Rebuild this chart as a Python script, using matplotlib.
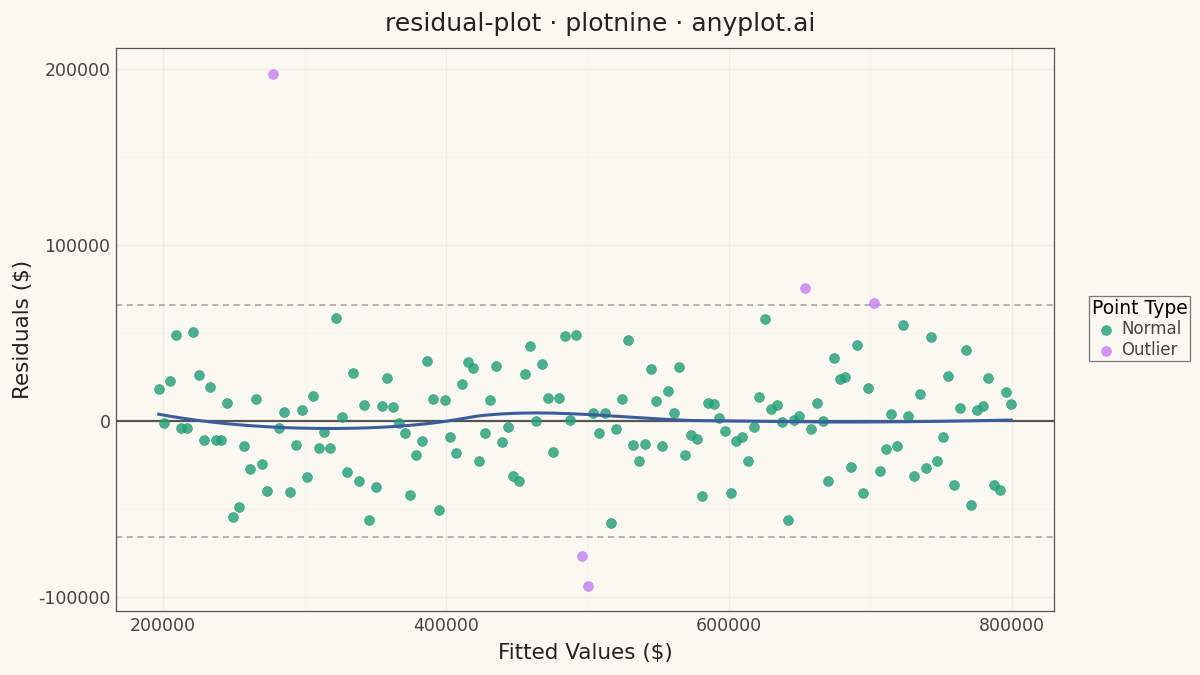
import numpy as np
import matplotlib
matplotlib.use("Agg")
import matplotlib.pyplot as plt
from matplotlib.ticker import MultipleLocator

# ---- data (thousands of $) ----
normal_fitted_k = [197, 200.7, 205, 209, 213, 217, 221, 225.2, 229.2, 233.2, 237.2, 241.2,
                   245.2, 249.5, 253.5, 257.5, 261.5, 265.5, 269.7, 273.7, 281.8, 285.7,
                   290, 293.8, 298, 302, 306, 310, 314, 318.2, 322.3, 326.3, 330.2, 334.3,
                   338.3, 342.3, 345.6, 350.5, 354.6, 358.5, 362.7, 366.8, 370.8, 374.8,
                   378.8, 382.8, 386.8, 391, 395, 399, 403, 407, 411.1, 415.3, 419.3, 423.3,
                   427.3, 431.3, 435.5, 439.6, 443.6, 447.6, 451.6, 455.6, 459.6, 463.6,
                   467.8, 471.9, 475.8, 479.9, 483.9, 487.8, 491.9, 504.1, 508.4, 512.4,
                   516.4, 520.3, 524.4, 528.6, 532.4, 536.6, 540.6, 544.6, 548.6, 552.6,
                   556.9, 560.9, 564.9, 568.9, 572.9, 577.2, 581.1, 585.2, 589.2, 593.1,
                   597.2, 601.2, 605.2, 609.4, 613.4, 617.4, 621.4, 625.6, 629.7, 633.7,
                   637.7, 641.7, 645.7, 649.5, 658, 662, 666.2, 670.2, 674.2, 678.2, 682.2,
                   686.4, 690.2, 694.5, 698.4, 706.7, 710.7, 714.7, 718.7, 722.7, 726.7,
                   730.7, 735, 739, 743, 747, 751, 755, 759.2, 763.2, 767.3, 771.2, 775.2,
                   779.3, 783.2, 787.5, 791.5, 795.5, 799.5]
normal_resid_k = [18.2, -1, 22.5, 48.9, -4, -4, 50.7, 26.1, -11, 19.3, -11, -11,
                  10.2, -54.5, -48.9, -14, -27.5, 12.3, -24.4, -39.6, -4, 4.9,
                  -40.2, -13.5, 6.1, -31.8, 14, -15.3, -6.3, -15.3, 58.3, 2.3, -29.2, 27.5,
                  -34.1, 8.9, -56.4, -37.3, 8.5, 24.6, 7.8, -1, -6.6, -42,
                  -19.3, -11.4, 34.3, 12.7, -50.7, 11.9, -9.3, -18, 20.8, 33.3, 30.3, -22.9,
                  -7, 12.1, 31.4, -12.1, -3.4, -31.1, -33.9, 26.5, 42.8, 0,
                  32.2, 12.9, -17.4, 12.9, 48.1, 0.7, 49, 4.7, -7, 4.7,
                  -58.1, -4.7, 12.5, 46.2, -13.8, -22.5, -13.3, 29.4, 11.6, -14.2,
                  17.2, 4.7, 30.7, -19.5, -8.1, -10.4, -42.4, 10.4, 9.5, 1.9,
                  -5.5, -41.1, -11.2, -8.9, -22.5, -3.6, 13.5, 58.1, 6.6, 9.1,
                  -0.8, -56.3, 0.6, 2.8, -4.5, 10.2, 0, -33.9, 35.6, 23.9, 25,
                  -26.3, 43.2, -41.1, 18.8, -28.6, -16.1, 4, -14.2, 54.5, 3,
                  -31.1, 15.2, -26.9, 47.6, -22.7, -8.9, 25.4, -36.4, 7.6, 40.2, -47.7, 6.1,
                  8.5, 24.3, -36.5, -39.2, 16.3, 9.7]
outlier_fitted_k = [277.7, 496.1, 500.3, 653.7, 702.3]
outlier_resid_k = [197.2, -76.7, -93.8, 75.6, 66.8]
band_k = 66.2  # +/- 2 sd reference band

nx = np.array(normal_fitted_k) * 1000
ny = np.array(normal_resid_k) * 1000
ox = np.array(outlier_fitted_k) * 1000
oy = np.array(outlier_resid_k) * 1000
band = band_k * 1000


def smooth(x, y, xs, span=0.75, degree=2, iters=3):
    """Robust local polynomial (loess) smoother computed from the data."""
    n = len(x)
    q = int(np.ceil(span * n))
    rw = np.ones(n)

    def fit_at(x0):
        d = np.abs(x - x0)
        h = np.sort(d)[q - 1]
        w = np.clip(1 - (d / h) ** 3, 0, None) ** 3 * rw
        X = np.vander(x - x0, degree + 1, increasing=True)
        W = np.sqrt(w)
        beta, *_ = np.linalg.lstsq(X * W[:, None], y * W, rcond=None)
        return beta[0]

    for _ in range(iters):
        fitted = np.array([fit_at(v) for v in x])
        r = y - fitted
        s = np.median(np.abs(r))
        u = np.clip(r / (6 * s), -1, 1)
        rw = (1 - u ** 2) ** 2
    return np.array([fit_at(v) for v in xs])


allx = np.concatenate([nx, ox])
ally = np.concatenate([ny, oy])
order = np.argsort(allx)
allx, ally = allx[order], ally[order]
xs = np.linspace(allx.min(), allx.max(), 200)
ys = smooth(allx, ally, xs)

bg = "#FAF8F1"
plt.rcParams['font.family'] = ['DejaVu Sans']
fig = plt.figure(figsize=(12, 6.75), dpi=100, facecolor=bg)
ax = fig.add_axes([0.0967, 0.0948, 0.7816, 0.8341])
ax.set_facecolor(bg)

ax.set_xlim(166800, 829700)
ax.set_ylim(-108000, 212000)
ax.xaxis.set_major_locator(MultipleLocator(200000))
ax.xaxis.set_minor_locator(MultipleLocator(100000))
ax.yaxis.set_major_locator(MultipleLocator(100000))
ax.yaxis.set_minor_locator(MultipleLocator(50000))
ax.grid(which='major', color='#EEEBE2', linewidth=0.9)
ax.grid(which='minor', color='#F3F1EA', linewidth=0.6)
ax.set_axisbelow(True)

ax.axhline(band, color='#A0A0A0', linestyle=(0, (4, 3)), linewidth=1.1, zorder=1)
ax.axhline(-band, color='#A0A0A0', linestyle=(0, (4, 3)), linewidth=1.1, zorder=1)
ax.axhline(0, color='#555555', linewidth=1.6, zorder=1)

ax.scatter(nx, ny, s=50, color='#1F9E78', alpha=0.8, edgecolors='#1F9E78',
           linewidths=0.5, zorder=3, label='Normal')
ax.scatter(ox, oy, s=50, color='#C77DF3', alpha=0.8, edgecolors='#C77DF3',
           linewidths=0.5, zorder=3, label='Outlier')
ax.plot(xs, ys, color='#3A5DA0', linewidth=2.2, zorder=4)

for s in ax.spines.values():
    s.set_color('#555555')
    s.set_linewidth(0.9)
ax.tick_params(which='both', length=0, labelsize=12.5, labelcolor='#444444', pad=4)
ax.set_xticks([200000, 400000, 600000, 800000])
ax.set_xticklabels(['200000', '400000', '600000', '800000'])
ax.set_yticks([-100000, 0, 100000, 200000])
ax.set_yticklabels(['-100000', '0', '100000', '200000'])

ax.set_xlabel('Fitted Values ($)', fontsize=15.5, color='#222222', labelpad=6)
ax.set_ylabel('Residuals ($)', fontsize=15.5, color='#222222', labelpad=4)
fig.suptitle('residual-plot · plotnine · anyplot.ai', fontsize=18, color='#222222', y=0.982)

leg = fig.legend(loc='center left', bbox_to_anchor=(0.9075, 0.5126), title='Point Type',
                 fontsize=12, title_fontsize=13.5, frameon=True, fancybox=False,
                 edgecolor='#555555', facecolor=bg, handletextpad=0.4,
                 borderpad=0.15, labelspacing=0.15, markerscale=1.0, handlelength=1.0,
                 borderaxespad=0)
for t in leg.get_texts():
    t.set_color('#444444')
leg.get_frame().set_linewidth(0.9)

fig.savefig('out.png', dpi=100, facecolor=bg)
